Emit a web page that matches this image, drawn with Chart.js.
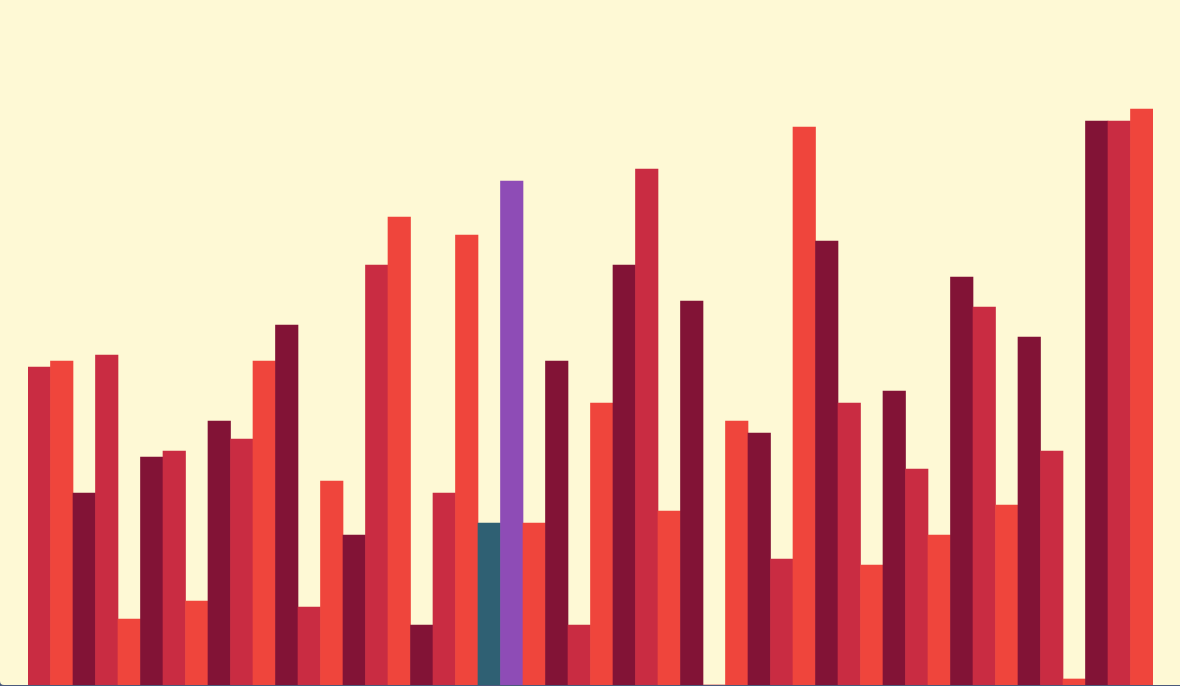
<!DOCTYPE html>
<html>
<head>
<meta charset="utf-8">
<script src="https://cdn.jsdelivr.net/npm/chart.js@4/dist/chart.umd.min.js"></script>
<style>
  html, body { margin: 0; padding: 0; }
  body { width: 1180px; height: 686px; background: #4a5a7c; overflow: hidden; }
  #card { position: absolute; left: 0; top: 0; width: 1180px; height: 685px;
          background: #fef9d5; border-radius: 0 0 0 4px; overflow: hidden; }
  #wrap { position: absolute; left: 0; top: 0; width: 1180px; height: 685px; }
</style>
</head>
<body>
<div id="card"><div id="wrap"><canvas id="chart"></canvas></div></div>
<script>
// 50 categories, one value each
const labels = Array.from({ length: 50 }, (_, i) => 'Item ' + (i + 1));
const values = [
  53, 54, 32, 55, 11, 38, 39, 14, 44, 41,
  54, 60, 13, 34, 25, 70, 78, 10, 32, 75,
  27, 84, 27, 54, 10, 47, 70, 86, 29, 64,
  0, 44, 42, 21, 93, 74, 47, 20, 49, 36,
  25, 68, 63, 30, 58, 39, 1, 94, 94, 96
];
// colour cycle and highlighted bars
const palette = ['#c92c42', '#ef453c', '#821336'];
const highlights = { 20: '#2f6073', 21: '#8e4cb6' };

const colors = values.map((v, i) => highlights[i] || palette[i % 3]);

const ctx = document.getElementById('chart').getContext('2d');
new Chart(ctx, {
  type: 'bar',
  data: {
    labels: labels,
    datasets: [{
      data: values,
      backgroundColor: colors,
      borderWidth: 0,
      categoryPercentage: 1,
      barPercentage: 1
    }]
  },
  options: {
    responsive: true,
    maintainAspectRatio: false,
    animation: false,
    layout: { padding: { left: 28, right: 27, top: 0, bottom: 0 } },
    plugins: { legend: { display: false }, tooltip: { enabled: false } },
    scales: {
      x: { display: false },
      y: { display: false, min: 0, max: 685 / 6 }
    }
  }
});
</script>
</body>
</html>
